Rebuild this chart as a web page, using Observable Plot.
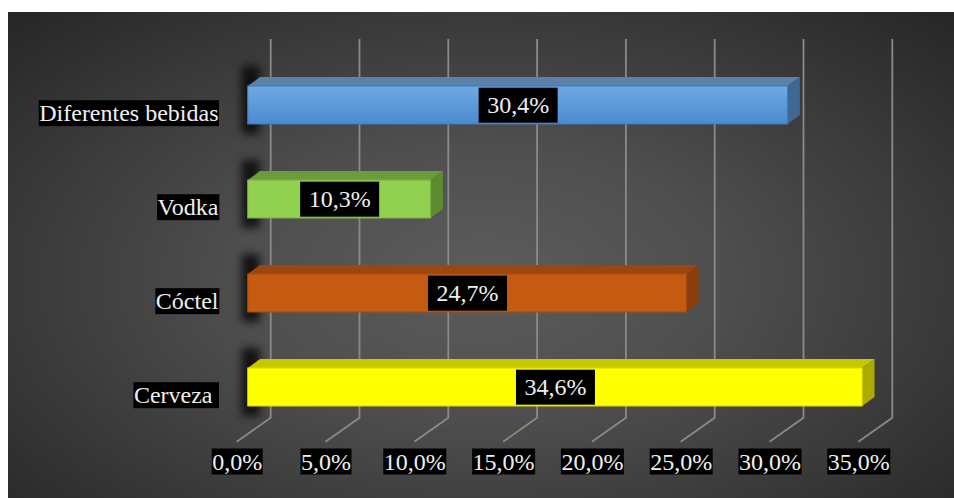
<!DOCTYPE html>
<html><head><meta charset="utf-8">
<script src="https://cdn.jsdelivr.net/npm/d3@7"></script>
<script src="https://cdn.jsdelivr.net/npm/@observablehq/plot@0.6"></script>
<style>
html,body{margin:0;padding:0;background:#fff;}
#chart{position:absolute;left:8px;top:12px;width:946px;height:486px;}
#chart svg{display:block;}
#chart svg text{font-family:"Liberation Serif","Times New Roman",serif !important;}
</style></head><body><div id="chart"></div>
<script>
// ---- data ----
const categories = ["Diferentes bebidas", "Vodka", "Cóctel", "Cerveza "];
const values = [30.4, 10.3, 24.7, 34.6];
const tickValues = [0, 5, 10, 15, 20, 25, 30, 35];

// ---- styles ----
const frontTop = ["#6ea9e3", "#92d050", "#c55a11", "#ffff00"];
const frontBottom = ["#4a8bd0", "#92d050", "#c55a11", "#ffff00"];
const topFace = ["#5a81a9", "#6b9c3c", "#9a4710", "#c8c800"];
const sideFace = ["#3e6892", "#5e8a32", "#8a3f0e", "#abab00"];
const edge = ["#4479b5", "#7ab043", "#a94c0f", "#d9d900"];

const fmt = v => v.toFixed(1).replace(".", ",") + "%";
const rows = categories.map((c, i) => ({cat: c, value: values[i]}));

const DX = 12.3, DY = -9;           // bar depth
const WALLDX = 23;                  // bar front -> back wall
const FLOORDX = -11;                // bar front -> floor front
const FONT = "Liberation Serif, Times New Roman, serif";

function grid(index, scales) {
  const x = scales.x;
  const g = d3.create("svg:g");
  const yTop = 27, yWall = 405.7, yFloor = yWall + 24;
  for (const t of tickValues) {
    const xf = x(t);
    g.append("path")
      .attr("d", `M${xf + WALLDX},${yTop}L${xf + WALLDX},${yWall}L${xf + FLOORDX},${yFloor}`)
      .attr("fill", "none").attr("stroke", "#8a8a8a").attr("stroke-width", 1.8);
  }
  return g.node();
}

function bars3d(index, scales) {
  const x = scales.x, y = scales.y, bw = y.bandwidth();
  const g = d3.create("svg:g");
  const defs = g.append("defs");
  const f = defs.append("filter").attr("id", "shadowblur")
    .attr("x", "-300%").attr("width", "700%").attr("y", "-50%").attr("height", "200%");
  f.append("feGaussianBlur").attr("stdDeviation", 4.5);
  rows.forEach((d, i) => {
    const lg = defs.append("linearGradient").attr("id", "fg" + i)
      .attr("x1", 0).attr("y1", 0).attr("x2", 0).attr("y2", 1);
    lg.append("stop").attr("offset", "0%").attr("stop-color", frontTop[i]);
    lg.append("stop").attr("offset", "100%").attr("stop-color", frontBottom[i]);
  });
  rows.forEach((d, i) => {
    const x0 = x(0), x1 = x(d.value), y0 = y(d.cat), y1 = y0 + bw;
    g.append("rect").attr("x", x0 - 6).attr("y", y0 - 20).attr("width", 18).attr("height", bw + 30)
      .attr("fill", "#000").attr("opacity", 0.75).attr("filter", "url(#shadowblur)");
    g.append("polygon")
      .attr("points", [[x0, y0], [x0 + DX, y0 + DY], [x1 + DX, y0 + DY], [x1, y0]].join(" "))
      .attr("fill", topFace[i]);
    g.append("polygon")
      .attr("points", [[x1, y0], [x1 + DX, y0 + DY], [x1 + DX, y1 + DY], [x1, y1]].join(" "))
      .attr("fill", sideFace[i]);
    g.append("rect").attr("x", x0).attr("y", y0).attr("width", x1 - x0).attr("height", bw)
      .attr("fill", `url(#fg${i})`).attr("stroke", edge[i]).attr("stroke-width", 1);
  });
  return g.node();
}

const plot = Plot.plot({
  width: 946,
  height: 486,
  marginLeft: 239.7,
  marginRight: 84.7,
  marginTop: 16.4,
  marginBottom: 35.4,
  style: "background: radial-gradient(ellipse farthest-corner at 50% 55%, #5c5c5c 0%, #4f4f4f 35%, #262626 100%); font-family: 'Liberation Serif', 'Times New Roman', serif; font-size: 24px; color: #eeeeee;",
  x: {domain: [0, 35], axis: null},
  y: {type: "band", domain: categories, padding: 0.6, axis: null},
  marks: [
    grid,
    bars3d,
    Plot.text(rows, {x: d => d.value / 2, y: "cat", text: d => fmt(d.value), fill: "#eeeeee",
      fontSize: 24, fontFamily: FONT, className: "vlab"}),
    Plot.text(rows, {x: 0, y: "cat", text: "cat", textAnchor: "end", dx: -29.7, dy: 8,
      fill: "#eeeeee", fontSize: 24, fontFamily: FONT, className: "clab"}),
    Plot.text(tickValues, {x: d => d, text: d => fmt(d), frameAnchor: "bottom", dx: FLOORDX, dy: 6.4,
      fill: "#eeeeee", fontSize: 24, fontFamily: FONT, className: "tlab"})
  ]
});
document.getElementById("chart").appendChild(plot);

const bw = plot.scale("y").bandwidth;
function boxes(sel, padX, fixedH) {
  d3.select(plot).selectAll(sel + " text").each(function () {
    const b = this.getBBox();
    let y = b.y, h = b.height;
    if (fixedH) { y = b.y + b.height / 2 - fixedH / 2; h = fixedH; }
    d3.select(this.parentNode).insert("rect", () => this)
      .attr("x", b.x - padX).attr("y", y).attr("width", b.width + 2 * padX).attr("height", h)
      .attr("transform", this.getAttribute("transform"))
      .attr("fill", "#000");
  });
}
boxes(".vlab", 8.5, bw - 3);
boxes(".clab", 0.5, 0);
boxes(".tlab", 0.5, 0);
</script>
</body></html>
